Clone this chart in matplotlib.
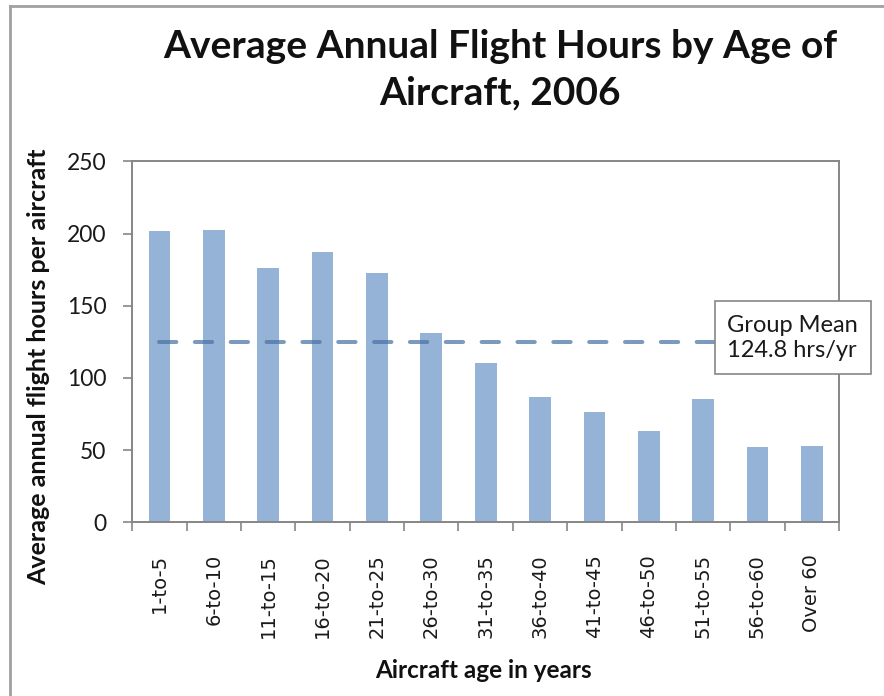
import matplotlib
matplotlib.use("Agg")
import matplotlib.pyplot as plt
import numpy as np
from matplotlib.patches import Rectangle
from matplotlib.lines import Line2D

categories = ["1-to-5", "6-to-10", "11-to-15", "16-to-20", "21-to-25", "26-to-30",
              "31-to-35", "36-to-40", "41-to-45", "46-to-50", "51-to-55", "56-to-60", "Over 60"]
hours = [201.5, 202.5, 176, 187.5, 172.5, 131, 110.5, 86.5, 76.5, 63.5, 85.5, 52, 53]
group_mean = 124.8
yticks = [0, 50, 100, 150, 200, 250]

W, H = 884, 696
fig = plt.figure(figsize=(W / 100, H / 100), dpi=100)
ax = fig.add_axes([132.3 / W, 1 - 522.3 / H, (839 - 132.3) / W, (522.3 - 161.3) / H])

x = np.arange(len(categories))
ax.bar(x, hours, width=0.4, color="#95B3D7", zorder=2)
ax.set_xlim(-0.5, len(categories) - 0.5)
ax.set_ylim(0, 250)

# group mean dashed line
ax.plot([0, 10.22], [group_mean, group_mean], color="#4A72A6", alpha=0.72, lw=2.9,
        ls=(0, (4.3, 4.6)), dash_capstyle="round", zorder=3, clip_on=False)

grey = "#868686"
for s in ax.spines.values():
    s.set_color(grey)
    s.set_linewidth(1.4)

ax.set_yticks(yticks)
ax.set_yticklabels([str(v) for v in yticks], fontsize=16.5, family="Lato", color="#1a1a1a")
ax.tick_params(axis="y", direction="out", length=6.5, width=1.2, color=grey, pad=12)

ax.set_xticks(x)
ax.set_xticklabels(categories, rotation=90, fontsize=14, family="DejaVu Sans", color="#1a1a1a")
ax.tick_params(axis="x", which="major", length=0, pad=23)
ax.set_xticks(np.arange(-0.5, len(categories), 1.0), minor=True)
ax.tick_params(axis="x", which="minor", direction="out", length=6.5, width=1.2, color=grey)

ax.set_ylabel("Average annual flight hours per aircraft", fontsize=18, family="Lato",
              fontweight="bold", color="#111111", va="center")
ax.yaxis.set_label_coords(-0.132, 0.43)
ax.set_xlabel("Aircraft age in years", fontsize=17.5, family="Lato", fontweight="bold",
              color="#111111", va="center")
ax.xaxis.set_label_coords(0.497, -0.411)

# annotation box
fig.patches.append(Rectangle((715 / W, 1 - 374 / H), (871 - 715) / W, (374 - 301) / H,
                             transform=fig.transFigure, facecolor="white", edgecolor=grey,
                             lw=1.2, zorder=5))
fig.text(792 / W, 1 - 338 / H, "Group Mean\n124.8 hrs/yr", ha="center", va="center",
         fontsize=17, family="Lato", color="#1a1a1a", linespacing=1.22, zorder=6)

# title
fig.text(500 / W, 1 - 70 / H, "Average Annual Flight Hours by Age of\nAircraft, 2006",
         ha="center", va="center", fontsize=28, family="Lato", fontweight="bold",
         color="#111111", linespacing=1.38)

# outer chart-area border (left and top edges visible)
fig.add_artist(Line2D([9.5 / W, 9.5 / W], [0, 1 - 6 / H], transform=fig.transFigure,
                      color="#a0a0a0", lw=2))
fig.add_artist(Line2D([9.5 / W, 1], [1 - 6 / H, 1 - 6 / H], transform=fig.transFigure,
                      color="#a0a0a0", lw=2))

fig.savefig("out.png", dpi=100)
